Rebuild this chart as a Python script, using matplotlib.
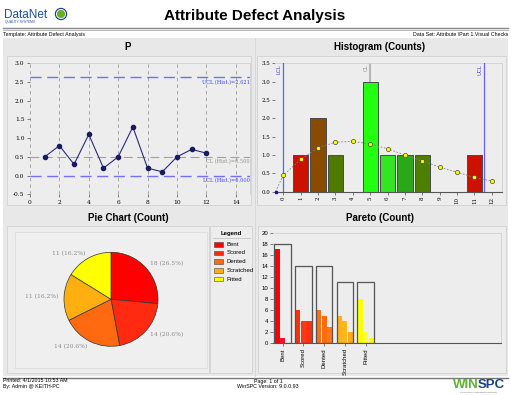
import matplotlib
matplotlib.use('Agg')
import matplotlib.pyplot as plt
from matplotlib.patches import Rectangle, Circle

# ---------------- data ----------------
p_samples = [1, 2, 3, 4, 5, 6, 7, 8, 9, 10, 11, 12]
p_values = [0.5, 0.8, 0.3, 1.1, 0.2, 0.5, 1.3, 0.2, 0.1, 0.5, 0.7, 0.6]
p_ucl, p_cl, p_lcl = 2.621, 0.500, 0.000

hist_bins = [0, 1, 2, 3, 4, 5, 6, 7, 8, 9, 10, 11, 12]
hist_counts = [0, 1, 2, 1, 0, 3, 1, 1, 1, 0, 0, 1, 0]
hist_colors = ['#cc1100', '#cc1100', '#8a4a00', '#4e7a00', '#4e7a00', '#22ff11', '#33e622',
               '#2aa818', '#4e8000', '#4e8000', '#cc1100', '#cc1100', '#cc1100']
curve_x = [-0.45, 0, 1, 2, 3, 4, 5, 6, 7, 8, 9, 10, 11, 12]
curve_y = [0.0, 0.45, 0.88, 1.20, 1.35, 1.37, 1.30, 1.17, 1.00, 0.84, 0.67, 0.53, 0.39, 0.29]
hist_lcl, hist_cl, hist_ucl = 0.0, 5.0, 11.55

defects = ['Bent', 'Scored', 'Dented', 'Scratched', 'Pitted']
defect_counts = [18, 14, 14, 11, 11]
defect_colors = ['#ff0000', '#ff2a10', '#ff6a10', '#ffb010', '#ffff00']
pareto_sub = [[17, 1, 0], [6, 4, 4], [6, 5, 3], [5, 4, 2], [8, 2, 1]]
pareto_sub_colors = [['#ff0000', '#ff1020', '#ff0000'],
                     ['#ff3010', '#ff3818', '#ff3010'],
                     ['#ff7010', '#ff6a0a', '#ff7818'],
                     ['#ffb020', '#ffb818', '#ffa818'],
                     ['#ffff00', '#ffff30', '#ffff10']]

# ---------------- figure ----------------
W, H = 511, 395
fig = plt.figure(figsize=(W / 100, H / 100), dpi=100)
fig.patch.set_facecolor('white')

def px_axes(x0, y0, x1, y1):
    return fig.add_axes([x0 / W, 1 - y1 / H, (x1 - x0) / W, (y1 - y0) / H])

SANS = 'Liberation Sans'
SERIF = 'DejaVu Serif'

bg = px_axes(0, 0, W, H)
bg.set_xlim(0, W); bg.set_ylim(H, 0); bg.axis('off')

# header
bg.text(4, 15, 'DataNet', fontsize=8.5, color='#1f4e9c', family=SANS, va='center', ha='left')
bg.text(5, 21.5, 'QUALITY SYSTEMS', fontsize=2.3, color='#1f4e9c', family=SANS, va='center', ha='left')
bg.add_patch(Circle((61, 14), 5.5, color='#1f3f80'))
bg.add_patch(Circle((61, 14), 4.3, color='white'))
bg.add_patch(Circle((61, 14), 3.4, color='#6ab023'))
bg.text(255, 16, 'Attribute Defect Analysis', fontsize=11, fontweight='bold', family=SANS,
        ha='center', va='center')
bg.plot([3, 508], [27.8, 27.8], color='#888888', lw=1.0)
bg.plot([3, 508], [30.4, 30.4], color='#aaaaaa', lw=0.6)
bg.text(3, 34.5, 'Template: Attribute Defect Analysis', fontsize=3.8, family=SANS, va='center', ha='left')
bg.text(508, 34.5, 'Data Set: Attribute \\Part 1.Visual Checks', fontsize=3.8, family=SANS,
        va='center', ha='right')

# panels background
bg.add_patch(Rectangle((3, 38), 505, 338, facecolor='#e8e8e8', edgecolor='none'))
bg.plot([254.5, 254.5], [38, 376], color='#d6d6d6', lw=0.6)
box_ec = '#d2d2d2'
for (x0, y0, x1, y1) in [(7, 56, 251, 205), (257, 56, 506, 205), (7, 226, 209, 373),
                         (210, 226, 252, 373), (258, 226, 506, 373)]:
    bg.add_patch(Rectangle((x0, y0), x1 - x0, y1 - y0, facecolor='#ededed', edgecolor=box_ec, lw=0.6))
bg.add_patch(Rectangle((15, 232), 192, 136, facecolor='#efefef', edgecolor='#dcdcdc', lw=0.6))

for (x, y, t) in [(128, 47, 'P'), (380, 47, 'Histogram (Counts)'),
                  (128, 218, 'Pie Chart (Count)'), (380, 218, 'Pareto (Count)')]:
    bg.text(x, y, t, fontsize=7, fontweight='bold', family=SANS, ha='center', va='center')

# footer
bg.plot([3, 508], [377.5, 377.5], color='#777777', lw=1.0)
bg.text(3, 381, 'Printed: 4/1/2015 10:53 AM', fontsize=3.8, family=SANS, va='center')
bg.text(3, 386.5, 'By: Admin @ KEITH-PC', fontsize=3.8, family=SANS, va='center')
bg.text(268, 381, 'Page: 1 of 1', fontsize=3.8, family=SANS, va='center', ha='center')
bg.text(268, 386.5, 'WinSPC Version: 9.0.0.93', fontsize=3.8, family=SANS, va='center', ha='center')
bg.text(453, 385, 'WIN', fontsize=9.5, fontweight='bold', family=SANS, color='#5cb531', va='center')
bg.text(478, 385, 'SPC', fontsize=9.5, fontweight='bold', family=SANS, color='#1c3f8c', va='center')
bg.text(479, 392.5, 'STATISTICAL PROCESS CONTROL', fontsize=1.6, family=SANS, color='#555555',
        va='center', ha='center')

# legend of pie
bg.text(231, 233, 'Legend', fontsize=4.3, fontweight='bold', family=SANS, ha='center', va='center')
bg.plot([213, 250], [238, 238], color='#bbbbbb', lw=0.5)
for i, (name, col) in enumerate(zip(defects, defect_colors)):
    yc = 244.3 + i * 8.7
    bg.add_patch(Rectangle((214, yc - 2.3), 9, 4.6, facecolor=col, edgecolor='#444444', lw=0.4))
    bg.text(226.5, yc, name, fontsize=4.3, family=SANS, va='center', ha='left')

# ---------------- P chart ----------------
ax = px_axes(30, 63.3, 250.4, 194.3)
ax.set_facecolor('none')
ax.set_xlim(0, 15); ax.set_ylim(-0.5, 3.0)
ax.set_xticks(range(0, 15, 2))
ax.set_yticks([-0.5, 0, 0.5, 1, 1.5, 2, 2.5, 3.0])
ax.set_yticklabels(['%.1f' % v for v in [-0.5, 0, 0.5, 1, 1.5, 2, 2.5, 3.0]])
for s in ['left', 'bottom']:
    ax.spines[s].set_visible(False)
for s in ['top', 'right']:
    ax.spines[s].set_color('#d0d0d0'); ax.spines[s].set_linewidth(0.6)
ax.tick_params(length=2.5, width=0.6, color='#666666', labelsize=4.3, pad=1.5)
for lab in ax.get_xticklabels() + ax.get_yticklabels():
    lab.set_family(SERIF)
for xv in range(0, 15, 2):
    ax.axvline(xv, color='#9a9a9a', lw=0.6, ls=(0, (4, 4)), zorder=1)
ax.axhline(p_ucl, color='#7070ff', lw=1.0, ls=(0, (8, 4)), zorder=2)
ax.axhline(p_cl, color='#a0a0a0', lw=0.8, ls=(0, (8, 4)), zorder=2)
ax.axhline(p_lcl, color='#7070ff', lw=1.0, ls=(0, (8, 4)), zorder=2)
ax.text(14.95, p_ucl - 0.06, 'UCL (Hist.)=%.3f' % p_ucl, ha='right', va='top', fontsize=3.6,
        color='#4040ff', family=SERIF)
ax.text(14.95, p_cl - 0.06, 'CL (Hist.)=%.3f' % p_cl, ha='right', va='top', fontsize=3.6,
        color='#909090', family=SERIF)
ax.text(14.95, p_lcl - 0.06, 'LCL (Hist.)=%.3f' % p_lcl, ha='right', va='top', fontsize=3.6,
        color='#4040ff', family=SERIF)
ax.plot(p_samples, p_values, color='#2a2a80', lw=0.8, marker='o', ms=3, mfc='#1a1a60',
        mec='#1a1a60', zorder=3)

# ---------------- Histogram ----------------
ah = px_axes(275, 63.3, 501.7, 191.7)
ah.set_facecolor('none')
ah.set_xlim(-0.48, 12.57); ah.set_ylim(0, 3.5)
ah.bar(hist_bins, hist_counts, width=0.88, color=hist_colors, edgecolor='#4a4a4a', lw=0.7, zorder=2)
ah.set_xticks(hist_bins)
ah.set_xticklabels([str(b) for b in hist_bins], rotation=90)
ah.set_yticks([0, 0.5, 1, 1.5, 2, 2.5, 3, 3.5])
ah.set_yticklabels(['%.1f' % v for v in [0, 0.5, 1, 1.5, 2, 2.5, 3, 3.5]])
ah.spines['left'].set_visible(False)
ah.spines['bottom'].set_color('#555555'); ah.spines['bottom'].set_linewidth(0.8)
for s in ['top', 'right']:
    ah.spines[s].set_color('#d0d0d0'); ah.spines[s].set_linewidth(0.6)
ah.tick_params(length=2, width=0.6, color='#666666', labelsize=4.0, pad=1.5)
for lab in ah.get_xticklabels() + ah.get_yticklabels():
    lab.set_family(SERIF)
ah.axvline(hist_lcl, color='#6060ff', lw=0.9, zorder=3)
ah.axvline(hist_cl, color='#b0b0b0', lw=1.3, zorder=1)
ah.axvline(hist_ucl, color='#6060ff', lw=0.9, zorder=3)
ah.text(hist_lcl - 0.1, 3.47, 'LCL', rotation=90, ha='right', va='top', fontsize=4, color='#4040ff')
ah.text(hist_cl - 0.1, 3.47, 'CL', rotation=90, ha='right', va='top', fontsize=4, color='#909090')
ah.text(hist_ucl - 0.1, 3.47, 'UCL', rotation=90, ha='right', va='top', fontsize=4, color='#4040ff')
ah.plot(curve_x, curve_y, color='#808080', lw=0.6, ls=(0, (2, 2)), zorder=4)
ah.plot(curve_x[1:], curve_y[1:], ls='none', marker='o', ms=3, mfc='#ffff00', mec='#444444',
        mew=0.5, zorder=5)
ah.plot(curve_x[:1], curve_y[:1], ls='none', marker='s', ms=1.5, color='#1a1a80', zorder=5,
        clip_on=False)

# ---------------- Pie ----------------
ap = px_axes(111 - 55, 299.3 - 55, 111 + 55, 299.3 + 55)
ap.set_xlim(-1.17, 1.17); ap.set_ylim(-1.17, 1.17); ap.axis('off')
total = sum(defect_counts)
labels = ['%d (%.1f%%)' % (c, 100.0 * c / total) for c in defect_counts]
wedges, texts = ap.pie(defect_counts, colors=defect_colors, startangle=90, counterclock=False,
                       labels=labels, labeldistance=1.12, radius=1,
                       wedgeprops=dict(edgecolor='#333333', linewidth=0.5),
                       textprops=dict(fontsize=4.3, color='#8a8a8a', family=SERIF))
ap.set_xlim(-1.17, 1.17); ap.set_ylim(-1.17, 1.17)

# ---------------- Pareto ----------------
ar = px_axes(273.3, 232.7, 500.7, 343.3)
ar.set_facecolor('none')
ar.set_xlim(-0.45, 10.5); ar.set_ylim(0, 20)
xs = list(range(len(defects)))
for j in range(3):
    ar.bar([x + (j - 1) * 0.267 for x in xs], [s[j] for s in pareto_sub], width=0.245,
           color=[c[j] for c in pareto_sub_colors], edgecolor='none', zorder=2)
ar.bar(xs, defect_counts, width=0.8, fill=False, edgecolor='#555555', lw=0.9, zorder=3)
ar.set_xticks(xs)
ar.set_xticklabels(defects, rotation=90)
ar.set_yticks(range(0, 21, 2))
ar.spines['left'].set_visible(False)
ar.spines['bottom'].set_color('#555555'); ar.spines['bottom'].set_linewidth(0.8)
for s in ['top', 'right']:
    ar.spines[s].set_color('#d0d0d0'); ar.spines[s].set_linewidth(0.6)
ar.tick_params(length=2, width=0.6, color='#666666', labelsize=4.3, pad=1.5)
for lab in ar.get_xticklabels() + ar.get_yticklabels():
    lab.set_family(SANS)

fig.savefig('out.png', dpi=100, facecolor='white')
